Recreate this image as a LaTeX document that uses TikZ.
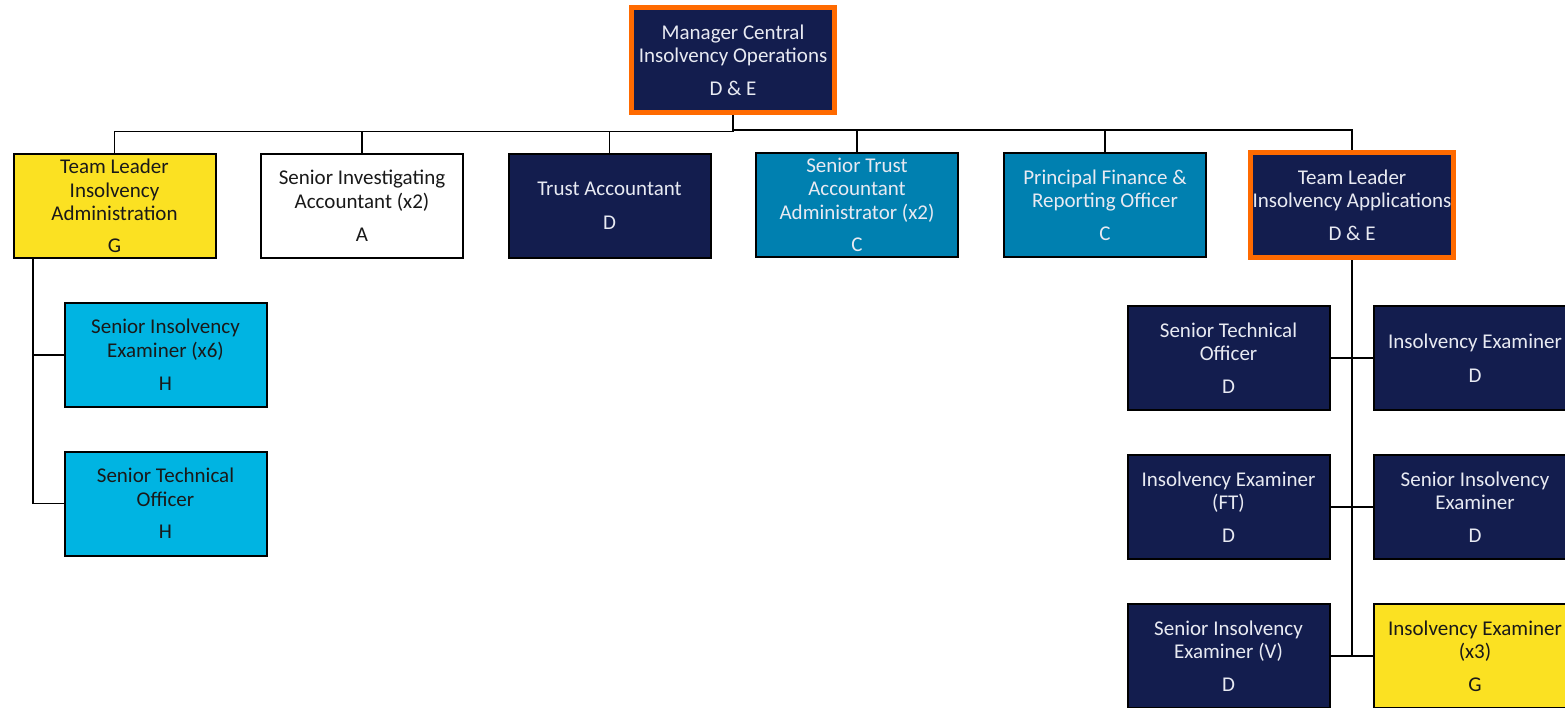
\documentclass[tikz,border=0pt]{standalone}
\usepackage{fontspec}
\setmainfont{Carlito}
\definecolor{navy}{RGB}{19,29,78}
\definecolor{hiorange}{RGB}{255,106,0}
\definecolor{gold}{RGB}{251,225,34}
\definecolor{midblue}{RGB}{0,128,176}
\definecolor{skyblue}{RGB}{0,180,226}
\definecolor{paletext}{RGB}{232,234,242}
\definecolor{darktext}{RGB}{25,25,25}
\tikzset{
  role/.style={draw=black, line width=2pt, rectangle, minimum width=202pt,
    minimum height=104pt, inner sep=0pt, align=center,
    font=\fontsize{21}{23.5}\selectfont},
  lead/.style={role, draw=hiorange, line width=5pt, minimum width=203pt,
    minimum height=105pt},
  navybox/.style={fill=navy, text=paletext},
  goldbox/.style={fill=gold, text=darktext},
  whitebox/.style={fill=white, text=darktext},
  bluebox/.style={fill=midblue, text=paletext},
  skybox/.style={fill=skyblue, text=darktext},
  link/.style={draw=black, line width=1.8pt},
}
\begin{document}
\begin{tikzpicture}[x=1pt, y=-1pt]
\useasboundingbox (0,0) rectangle (1565,707);
\begin{scope}
\clip (0,0) rectangle (1565,707);

% top manager
\node[lead, navybox] (mgr) at (733,60) {Manager Central\\Insolvency Operations\\[9pt]D \& E};

% first tier
\node[role, goldbox]  (tladm) at (114.5,206) {Team Leader\\Insolvency\\Administration\\[8pt]G};
\node[role, whitebox] (sia)   at (362,206)   {Senior Investigating\\Accountant (x2)\\[10pt]A};
\node[role, navybox]  (ta)    at (609.5,206) {Trust Accountant\\[10pt]D};
\node[role, bluebox]  (sta)   at (857,205)   {Senior Trust\\Accountant\\Administrator (x2)\\[9pt]C};
\node[role, bluebox]  (pfr)   at (1105,205)  {Principal Finance \&\\Reporting Officer\\[9pt]C};
\node[lead, navybox]  (tla)   at (1352,205)  {Team Leader\\Insolvency Applications\\[9pt]D \& E};

% administration team
\node[role, skybox] (sie6) at (165.5,355)   {Senior Insolvency\\Examiner (x6)\\[10pt]H};
\node[role, skybox] (sto1) at (165.5,503.5) {Senior Technical\\Officer\\[9pt]H};

% applications team
\node[role, navybox] (sto2) at (1228.5,358) {Senior Technical\\Officer\\[9pt]D};
\node[role, navybox] (ie)   at (1475,358)   {Insolvency Examiner\\[10pt]D};
\node[role, navybox] (ieft) at (1228.5,507) {Insolvency Examiner\\(FT)\\[9pt]D};
\node[role, navybox] (sie)  at (1475,507)   {Senior Insolvency\\Examiner\\[9pt]D};
\node[role, navybox] (siev) at (1228.5,656) {Senior Insolvency\\Examiner (V)\\[9pt]D};
\node[role, goldbox] (iex3) at (1475,656)   {Insolvency Examiner\\(x3)\\[9pt]G};

% reporting lines from the manager
\coordinate (busL) at (733,131.5);
\coordinate (busR) at (733,130);
\draw[link] (mgr.south) -- (busL);
\draw[link] (busL) -| (tladm.north);
\draw[link] (busL) -| (sia.north);
\draw[link] (busL) -| (ta.north);
\draw[link] (busR) -| (sta.north);
\draw[link] (busR) -| (pfr.north);
\draw[link] (busR) -| (tla.north);

% administration team lines
\coordinate (admdrop) at ([xshift=-81.5pt]tladm.south);
\draw[link] (admdrop) |- (sie6.west);
\draw[link] (admdrop) |- (sto1.west);

% applications team lines
\draw[link] (tla.south) |- (iex3.west);
\draw[link] (sto2.east) -- (ie.west);
\draw[link] (ieft.east) -- (sie.west);
\draw[link, line width=1.2pt] (siev.east) -- (tla.south |- siev.east);
\end{scope}
\end{tikzpicture}
\end{document}
